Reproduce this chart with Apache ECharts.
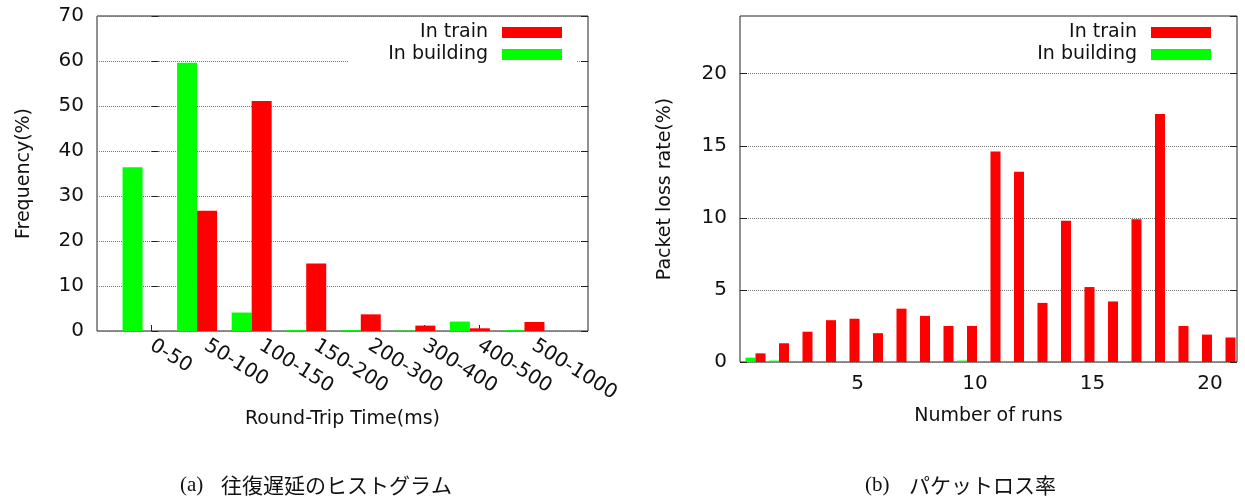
<!DOCTYPE html>
<html>
<head>
<meta charset="utf-8">
<script src="https://cdn.jsdelivr.net/npm/echarts@6/dist/echarts.min.js"></script>
<style>
html, body { margin: 0; background: #fff; }
#main { width: 1245px; height: 499px; }
</style>
</head>
<body>
<div id="main"></div>
<script>
// (a) round-trip time histogram
var rttBins = ['0-50', '50-100', '100-150', '150-200', '200-300', '300-400', '400-500', '500-1000'];
var rttTrain = [0, 26.7, 51.1, 15.0, 3.7, 1.2, 0.6, 2.0];
var rttBuilding = [36.4, 59.6, 4.1, 0.2, 0.2, 0.1, 2.1, 0.2];
var freqTicks = [0, 10, 20, 30, 40, 50, 60, 70];

// (b) packet loss rate per run
var runs = [1, 2, 3, 4, 5, 6, 7, 8, 9, 10, 11, 12, 13, 14, 15, 16, 17, 18, 19, 20, 21];
var lossTrain = [0.6, 1.3, 2.1, 2.9, 3.0, 2.0, 3.7, 3.2, 2.5, 2.5, 14.6, 13.2, 4.1, 9.8, 5.2, 4.2, 9.9, 17.2, 2.5, 1.9, 1.7];
var lossBuilding = [0.3, 0.1, 0, 0, 0, 0, 0, 0, 0, 0.1, 0, 0, 0, 0, 0, 0, 0, 0, 0, 0, 0];
var runTicks = [5, 10, 15, 20];
var lossTicks = [0, 5, 10, 15, 20];

var FONT = 'DejaVu Sans';
var RED = '#ff0000', GREEN = '#00ff00';

function pairs(xs, ys) {
    return xs.map(function (x, i) { return [x, ys[i]]; });
}
var binIdx = rttBins.map(function (b, i) { return i; });

function mirrorAxis(grid, max, interval) {
    return {
        type: 'value', gridIndex: grid, position: 'right', min: 0, max: max, interval: interval,
        axisLine: {show: false}, axisLabel: {show: false}, splitLine: {show: false},
        axisTick: {show: true, inside: true, length: 7, lineStyle: {color: '#222'}}
    };
}

var chart = echarts.init(document.getElementById('main'), null, {renderer: 'canvas'});
var option = {
    animation: false,
    backgroundColor: '#fff',
    textStyle: {fontFamily: FONT, color: '#111'},
    grid: [
        {left: 97, top: 16, width: 491, height: 315, show: true, borderColor: '#222', borderWidth: 1, backgroundColor: 'transparent'},
        {left: 740, top: 16, width: 497, height: 346, show: true, borderColor: '#222', borderWidth: 1, backgroundColor: 'transparent'}
    ],
    legend: [{
        data: ['In train', 'In building'],
        orient: 'vertical', align: 'right', right: 668, top: 18,
        itemWidth: 60, itemHeight: 11, itemGap: 3, icon: 'rect',
        backgroundColor: '#fff', padding: [5, 15, 6, 40],
        textStyle: {fontFamily: FONT, fontSize: 19, color: '#111', padding: [2, 9, 0, 0]}
    }, {
        data: ['In train', 'In building'],
        orient: 'vertical', align: 'right', right: 19, top: 18,
        itemWidth: 60, itemHeight: 11, itemGap: 3, icon: 'rect',
        padding: [5, 15, 6, 40],
        textStyle: {fontFamily: FONT, fontSize: 19, color: '#111', padding: [2, 9, 0, 0]}
    }],
    xAxis: [{
        type: 'value', gridIndex: 0, min: -1, max: 8, interval: 1,
        name: 'Round-Trip Time(ms)', nameLocation: 'middle', nameGap: 76,
        nameTextStyle: {fontFamily: FONT, fontSize: 19, color: '#111'},
        axisLine: {show: false},
        axisTick: {show: true, inside: true, length: 6, customValues: binIdx, lineStyle: {color: '#222'}},
        axisLabel: {
            customValues: binIdx, rotate: -32, margin: 13,
            fontFamily: FONT, fontSize: 20, color: '#111',
            formatter: function (v) { return rttBins[v]; }
        },
        splitLine: {show: false}
    }, {
        type: 'value', gridIndex: 1, min: 0, max: 21.15, interval: 5,
        name: 'Number of runs', nameLocation: 'middle', nameGap: 45,
        nameTextStyle: {fontFamily: FONT, fontSize: 19, color: '#111'},
        axisLine: {show: false},
        axisTick: {show: true, inside: true, length: 6, customValues: runTicks, lineStyle: {color: '#222'}},
        axisLabel: {customValues: runTicks, margin: 12, fontFamily: FONT, fontSize: 20, color: '#111'},
        splitLine: {show: false}
    }],
    yAxis: [{
        type: 'value', gridIndex: 0, min: 0, max: 70, interval: 10,
        name: 'Frequency(%)', nameLocation: 'middle', nameGap: 63,
        nameTextStyle: {fontFamily: FONT, fontSize: 19, color: '#111'},
        axisLine: {show: false},
        axisTick: {show: true, inside: true, length: 7, lineStyle: {color: '#222'}},
        axisLabel: {customValues: freqTicks, margin: 13, fontFamily: FONT, fontSize: 20, color: '#111'},
        splitLine: {show: true, lineStyle: {color: '#777', type: 'dotted', width: 1}}
    }, {
        type: 'value', gridIndex: 1, min: 0, max: 24, interval: 5,
        name: 'Packet loss rate(%)', nameLocation: 'middle', nameGap: 65,
        nameTextStyle: {fontFamily: FONT, fontSize: 19, color: '#111'},
        axisLine: {show: false},
        axisTick: {show: true, inside: true, length: 7, customValues: lossTicks, lineStyle: {color: '#222'}},
        axisLabel: {customValues: lossTicks, margin: 13, fontFamily: FONT, fontSize: 20, color: '#111'},
        splitLine: {show: true, lineStyle: {color: '#777', type: 'dotted', width: 1}}
    }, mirrorAxis(0, 70, 10), mirrorAxis(1, 24, 5)],
    series: [
        // (a)
        {name: 'In building', type: 'bar', xAxisIndex: 0, yAxisIndex: 0, barWidth: 20, barGap: '0%',
            itemStyle: {color: GREEN}, data: pairs(binIdx, rttBuilding)},
        {name: 'In train', type: 'bar', xAxisIndex: 0, yAxisIndex: 0, barWidth: 20, barGap: '0%',
            itemStyle: {color: RED}, data: pairs(binIdx, rttTrain)},
        // empty slot to the right of each pair, as in the gnuplot clusters
        {name: 'gap-a', type: 'bar', xAxisIndex: 0, yAxisIndex: 0, barWidth: 18, barGap: '0%',
            itemStyle: {color: 'transparent'}, silent: true, data: []},
        // (b)
        {name: 'In building', type: 'bar', xAxisIndex: 1, yAxisIndex: 1, barWidth: 10, barGap: '0%',
            itemStyle: {color: GREEN}, data: pairs(runs, lossBuilding)},
        {name: 'In train', type: 'bar', xAxisIndex: 1, yAxisIndex: 1, barWidth: 10, barGap: '0%',
            itemStyle: {color: RED}, data: pairs(runs, lossTrain)},
        {name: 'gap-b', type: 'bar', xAxisIndex: 1, yAxisIndex: 1, barWidth: 16, barGap: '0%',
            itemStyle: {color: 'transparent'}, silent: true, data: []}
    ],
    graphic: [
        {type: 'text', x: 180, y: 485, style: {text: '(a)', font: '21px "Liberation Serif"', fill: '#111', verticalAlign: 'middle'}},
        {type: 'text', x: 221, y: 485, style: {text: '往復遅延のヒストグラム', font: '21px "Noto Sans CJK JP"', fill: '#111', verticalAlign: 'middle'}},
        {type: 'text', x: 865, y: 485, style: {text: '(b)', font: '21px "Liberation Serif"', fill: '#111', verticalAlign: 'middle'}},
        {type: 'text', x: 909, y: 485, style: {text: 'パケットロス率', font: '21px "Noto Sans CJK JP"', fill: '#111', verticalAlign: 'middle'}}
    ]
};
chart.setOption(option);
</script>
</body>
</html>
